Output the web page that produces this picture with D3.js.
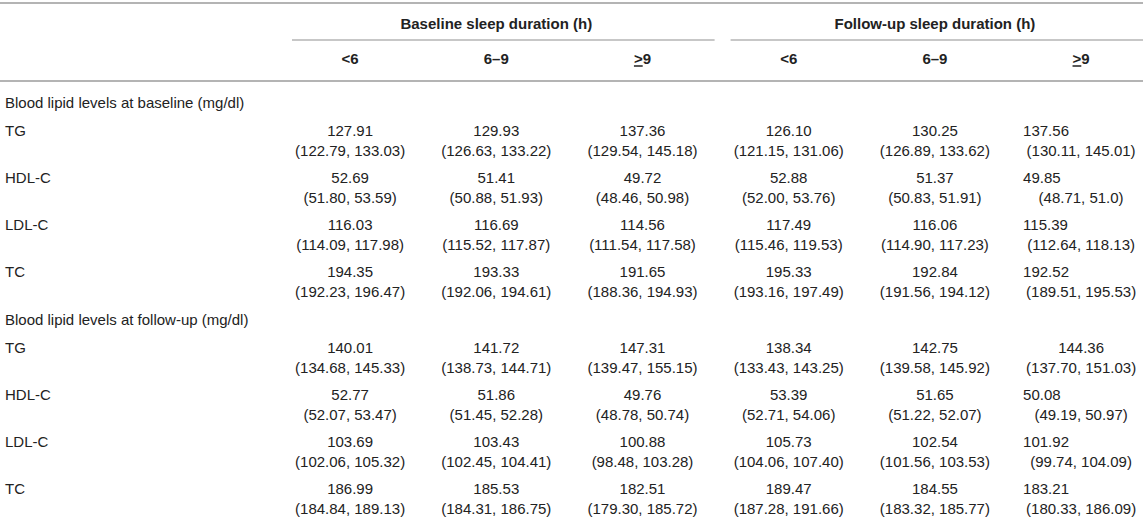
<!DOCTYPE html>
<html>
<head>
<meta charset="utf-8">
<script src="https://cdn.jsdelivr.net/npm/d3@7"></script>
<style>
  body { margin: 0; background: #fff; }
  svg { display: block; font-family: "Liberation Sans", Arial, sans-serif; }
</style>
</head>
<body>
<div id="table"></div>
<script>
const spanners = ["Baseline sleep duration (h)", "Follow-up sleep duration (h)"];
const durations = ["<6", "6–9", "≥9"];
const sections = ["Blood lipid levels at baseline (mg/dl)", "Blood lipid levels at follow-up (mg/dl)"];
const lipids = ["TG", "HDL-C", "LDL-C", "TC"];

// columns: baseline <6, 6–9, ≥9, follow-up <6, 6–9, ≥9
const meanAtBaseline = [
  ["127.91", "129.93", "137.36", "126.10", "130.25", "137.56"],
  ["52.69", "51.41", "49.72", "52.88", "51.37", "49.85"],
  ["116.03", "116.69", "114.56", "117.49", "116.06", "115.39"],
  ["194.35", "193.33", "191.65", "195.33", "192.84", "192.52"]
];
const lowAtBaseline = [
  ["122.79", "126.63", "129.54", "121.15", "126.89", "130.11"],
  ["51.80", "50.88", "48.46", "52.00", "50.83", "48.71"],
  ["114.09", "115.52", "111.54", "115.46", "114.90", "112.64"],
  ["192.23", "192.06", "188.36", "193.16", "191.56", "189.51"]
];
const highAtBaseline = [
  ["133.03", "133.22", "145.18", "131.06", "133.62", "145.01"],
  ["53.59", "51.93", "50.98", "53.76", "51.91", "51.0"],
  ["117.98", "117.87", "117.58", "119.53", "117.23", "118.13"],
  ["196.47", "194.61", "194.93", "197.49", "194.12", "195.53"]
];
const meanAtFollowUp = [
  ["140.01", "141.72", "147.31", "138.34", "142.75", "144.36"],
  ["52.77", "51.86", "49.76", "53.39", "51.65", "50.08"],
  ["103.69", "103.43", "100.88", "105.73", "102.54", "101.92"],
  ["186.99", "185.53", "182.51", "189.47", "184.55", "183.21"]
];
const lowAtFollowUp = [
  ["134.68", "138.73", "139.47", "133.43", "139.58", "137.70"],
  ["52.07", "51.45", "48.78", "52.71", "51.22", "49.19"],
  ["102.06", "102.45", "98.48", "104.06", "101.56", "99.74"],
  ["184.84", "184.31", "179.30", "187.28", "183.32", "180.33"]
];
const highAtFollowUp = [
  ["145.33", "144.71", "155.15", "143.25", "145.92", "151.03"],
  ["53.47", "52.28", "50.74", "54.06", "52.07", "50.97"],
  ["105.32", "104.41", "103.28", "107.40", "103.53", "104.09"],
  ["189.13", "186.75", "185.72", "191.66", "185.77", "186.09"]
];

const width = 1143, height = 522;
const textColor = "#222";
const ruleColor = "#b4b4b4";

const svg = d3.select("#table").append("svg")
  .attr("width", width)
  .attr("height", height);

// column geometry
const colKeys = d3.cross(spanners, durations).map(d => d.join("|"));
const x = d3.scaleBand().domain(colKeys).range([277, 277 + 6 * 146.2]);
const xSpan = d3.scaleBand().domain(spanners).range(x.range());
const mid = d => x(d) + x.bandwidth() / 2;

// row geometry
const sectionY = d3.scalePoint().domain(sections).range([103, 320]);
const rowY = d3.scaleLinear().domain([0, 1]).range([28, 75]);
const ciGap = 20;

// top and header rules
svg.append("line")
  .attr("x1", 0).attr("x2", width)
  .attr("y1", 3).attr("y2", 3)
  .attr("stroke", ruleColor).attr("stroke-width", 2);
svg.append("line")
  .attr("x1", 0).attr("x2", width)
  .attr("y1", 81).attr("y2", 81)
  .attr("stroke", ruleColor).attr("stroke-width", 2);

// spanner headers, centred over the middle column of each group
const span = svg.append("g").selectAll("g")
  .data(spanners)
  .join("g");

span.append("text")
  .attr("x", d => xSpan(d) + xSpan.bandwidth() / 2)
  .attr("y", 24)
  .attr("dy", "0.35em")
  .attr("text-anchor", "middle")
  .attr("fill", textColor)
  .style("font-size", "15px")
  .style("font-weight", "bold")
  .text(d => d);

span.append("line")
  .attr("x1", d => xSpan(d) + 15)
  .attr("x2", d => xSpan(d) + xSpan.bandwidth() - 1)
  .attr("y1", 40).attr("y2", 40)
  .attr("stroke", ruleColor).attr("stroke-width", 1.5);

// duration sub-headers (≥ drawn as underlined >)
svg.append("g").selectAll("text")
  .data(colKeys)
  .join("text")
  .attr("x", mid)
  .attr("y", 59)
  .attr("dy", "0.35em")
  .attr("text-anchor", "middle")
  .attr("fill", textColor)
  .style("font-size", "15px")
  .style("font-weight", "bold")
  .each(function (d) {
    const label = d.split("|")[1];
    const t = d3.select(this);
    if (label === "≥9") {
      t.append("tspan").style("text-decoration", "underline").text(">");
      t.append("tspan").text("9");
    } else {
      t.text(label);
    }
  });

// section labels
svg.append("g").selectAll("text")
  .data(sections)
  .join("text")
  .attr("x", 5)
  .attr("y", d => sectionY(d))
  .attr("dy", "0.35em")
  .attr("fill", textColor)
  .style("font-size", "15px")
  .text(d => d);

const tables = [
  { section: sections[0], mean: meanAtBaseline, low: lowAtBaseline, high: highAtBaseline },
  { section: sections[1], mean: meanAtFollowUp, low: lowAtFollowUp, high: highAtFollowUp }
];

// in the source the last column is mostly left-set; only this cell is centred
const centredLast = new Set([sections[1] + "|TG"]);

const cells = tables.flatMap(t =>
  lipids.flatMap((lipid, i) =>
    colKeys.map((col, j) => ({
      section: t.section,
      lipid: lipid,
      row: i,
      col: col,
      last: j === colKeys.length - 1,
      mean: t.mean[i][j],
      ci: `(${t.low[i][j]}, ${t.high[i][j]})`
    }))
  )
);

// row labels
svg.append("g").selectAll("text")
  .data(tables.flatMap(t => lipids.map((l, i) => ({ section: t.section, lipid: l, row: i }))))
  .join("text")
  .attr("x", 5)
  .attr("y", d => sectionY(d.section) + rowY(d.row))
  .attr("dy", "0.35em")
  .attr("fill", textColor)
  .style("font-size", "15px")
  .text(d => d.lipid);

const leftSet = d => d.last && !centredLast.has(d.section + "|" + d.lipid);

// mean values
svg.append("g").selectAll("text")
  .data(cells)
  .join("text")
  .attr("x", d => leftSet(d) ? mid(d.col) - 58 : mid(d.col))
  .attr("y", d => sectionY(d.section) + rowY(d.row))
  .attr("dy", "0.35em")
  .attr("text-anchor", d => leftSet(d) ? "start" : "middle")
  .attr("fill", textColor)
  .style("font-size", "15px")
  .text(d => d.mean);

// confidence intervals
svg.append("g").selectAll("text")
  .data(cells)
  .join("text")
  .attr("x", d => mid(d.col))
  .attr("y", d => sectionY(d.section) + rowY(d.row) + ciGap)
  .attr("dy", "0.35em")
  .attr("text-anchor", "middle")
  .attr("fill", textColor)
  .style("font-size", "15px")
  .text(d => d.ci);
</script>
</body>
</html>
